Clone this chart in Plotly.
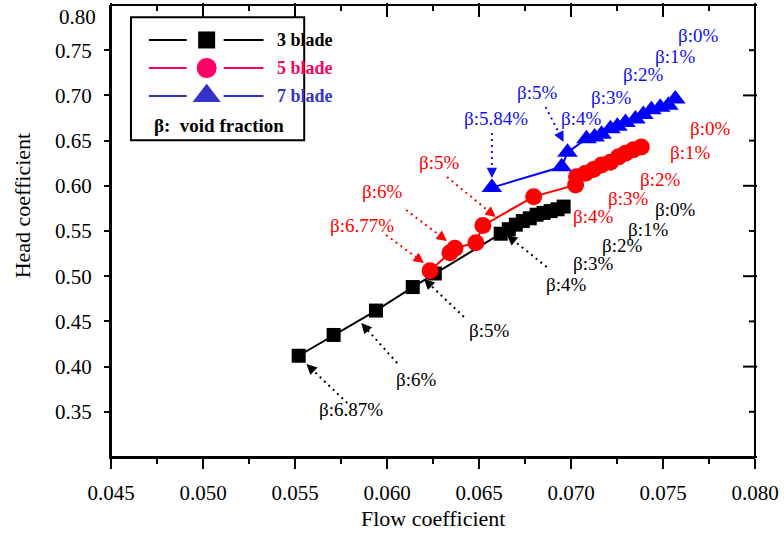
import math
import plotly.graph_objects as go

# ---- measured performance data --------------------------------------------
flow_3 = [0.0552, 0.0571, 0.0594, 0.0614, 0.0626, 0.06618, 0.06662, 0.06700,
          0.06738, 0.06776, 0.06813, 0.06851, 0.06889, 0.06927, 0.06960]
head_3 = [0.412, 0.435, 0.462, 0.488, 0.503, 0.547, 0.552, 0.557,
          0.561, 0.564, 0.568, 0.570, 0.572, 0.574, 0.577]

flow_5 = [0.06234, 0.06342, 0.06369, 0.06483, 0.06521, 0.06797, 0.07025, 0.07030,
          0.07079, 0.07122, 0.07166, 0.07214, 0.07258, 0.07296, 0.07339, 0.07382]
head_5 = [0.506, 0.526, 0.531, 0.537, 0.556, 0.588, 0.601, 0.610,
          0.614, 0.618, 0.623, 0.626, 0.632, 0.636, 0.640, 0.643]

flow_7 = [0.06570, 0.06949, 0.06981, 0.07084, 0.07128, 0.07166, 0.07214, 0.07252,
          0.07296, 0.07350, 0.07393, 0.07437, 0.07485, 0.07529, 0.07567]
head_7 = [0.598, 0.621, 0.637, 0.652, 0.654, 0.657, 0.663, 0.666,
          0.670, 0.674, 0.679, 0.684, 0.687, 0.689, 0.696]

# ---- axis ticks ------------------------------------------------------------
x_ticks = [0.045, 0.050, 0.055, 0.060, 0.065, 0.070, 0.075, 0.080]
x_labels = ["0.045", "0.050", "0.055", "0.060", "0.065", "0.070", "0.075", "0.080"]
x_minor_ticks = [0.0475, 0.0525, 0.0575, 0.0625, 0.0675, 0.0725, 0.0775]
y_ticks = [0.35, 0.40, 0.45, 0.50, 0.55, 0.60, 0.65, 0.70, 0.75]
y_labels = ["0.35", "0.40", "0.45", "0.50", "0.55", "0.60", "0.65", "0.70", "0.75"]
y_long_ticks = [0.30, 0.40, 0.50, 0.60, 0.70, 0.80]
y_short_ticks = [0.35, 0.45, 0.55, 0.65, 0.75]
X_RANGE = [0.045, 0.080]
Y_RANGE = [0.30, 0.80]

# ---- void fraction labels: (text, colour, x, y, arrow start, arrow tip) ----
BLACK, RED, BLUE = "#000000", "#FF0000", "#1010F0"
beta_labels = [
    ("β:6.87%", BLACK, 0.05806, 0.352, (0.05784, 0.3597), (0.05562, 0.4029)),
    ("β:6%", BLACK, 0.06158, 0.3852, (0.06055, 0.4040), (0.05860, 0.4482)),
    ("β:5%", BLACK, 0.06553, 0.4394, (0.06418, 0.4549), (0.06201, 0.4969)),
    ("β:4%", BLACK, 0.06971, 0.4903, (0.06868, 0.5102), (0.06651, 0.5456)),
    ("β:3%", BLACK, 0.07122, 0.5146, None, None),
    ("β:2%", BLACK, 0.07279, 0.5345, None, None),
    ("β:1%", BLACK, 0.07420, 0.5522, None, None),
    ("β:0%", BLACK, 0.07567, 0.5743, None, None),
    ("β:0%", RED, 0.07756, 0.6639, None, None),
    ("β:1%", RED, 0.07648, 0.6363, None, None),
    ("β:2%", RED, 0.07485, 0.6075, None, None),
    ("β:3%", RED, 0.07312, 0.5865, None, None),
    ("β:4%", RED, 0.07122, 0.5655, None, None),
    ("β:5%", RED, 0.06283, 0.6263, (0.06326, 0.6097), (0.06591, 0.5655)),
    ("β:6%", RED, 0.05974, 0.5942, (0.06104, 0.5732), (0.06326, 0.5389)),
    ("β:6.77%", RED, 0.05865, 0.5566, (0.05995, 0.5456), (0.06201, 0.5146)),
    ("β:0%", BLUE, 0.07691, 0.7668, None, None),
    ("β:1%", BLUE, 0.07567, 0.7425, None, None),
    ("β:2%", BLUE, 0.07393, 0.7226, None, None),
    ("β:3%", BLUE, 0.07220, 0.6982, None, None),
    ("β:4%", BLUE, 0.07057, 0.6750, None, None),
    ("β:5%", BLUE, 0.06813, 0.7027, (0.06862, 0.6872), (0.06960, 0.6485)),
    ("β:5.84%", BLUE, 0.06591, 0.6750, (0.06570, 0.6584), (0.06570, 0.6086)),
]

# ---- legend entries (positions as fractions of the plot area) -------------
legend_names = ["3 blade", "5 blade", "7 blade"]
legend_colors = ["#000000", "#FF0066", "#3333CC"]
legend_symbols = ["square", "circle", "triangle-up"]
legend_sizes = [18, 21, 26]
legend_rows = [0.9226, 0.8606, 0.7987]
legend_marker_x = 0.1486

FONT = "Liberation Serif"
W, H = 784, 533
M = dict(l=111, r=27, t=5, b=76)
px_per_x = (W - M["l"] - M["r"]) / (X_RANGE[1] - X_RANGE[0])
px_per_y = (H - M["t"] - M["b"]) / (Y_RANGE[1] - Y_RANGE[0])
LONG, SHORT = 10, 5


def frac_to_x(f):
    return X_RANGE[0] + f * (X_RANGE[1] - X_RANGE[0])


def frac_to_y(f):
    return Y_RANGE[0] + f * (Y_RANGE[1] - Y_RANGE[0])


fig = go.Figure()

fig.add_trace(go.Scatter(x=flow_3, y=head_3, mode="lines+markers",
                         line=dict(color="black", width=2),
                         marker=dict(symbol="square", size=14, color="black", opacity=1),
                         showlegend=False, cliponaxis=False))
fig.add_trace(go.Scatter(x=flow_5, y=head_5, mode="lines+markers",
                         line=dict(color="#FF0000", width=2),
                         marker=dict(symbol="circle", size=17, color="#FF0000", opacity=1),
                         showlegend=False, cliponaxis=False))
fig.add_trace(go.Scatter(x=flow_7, y=head_7, mode="lines+markers",
                         line=dict(color="#0000FF", width=2),
                         marker=dict(symbol="triangle-up", size=18, color="#0000FF", opacity=1),
                         showlegend=False, cliponaxis=False))


def tick_trace(xs, ys, symbol, length):
    return go.Scatter(x=xs, y=ys, mode="markers", showlegend=False, hoverinfo="skip",
                      cliponaxis=False,
                      marker=dict(symbol=symbol, size=length, color="black", opacity=1,
                                  line=dict(color="black", width=2)))


# y ticks point left on both frame edges; top ticks point down into the plot
for ticks, length in ((y_long_ticks, LONG), (y_short_ticks, SHORT)):
    half = length / 2 / px_per_x
    for edge in (X_RANGE[0], X_RANGE[1]):
        fig.add_trace(tick_trace([edge - half] * len(ticks), ticks, "line-ew", length))
for ticks, length in ((x_ticks, LONG), (x_minor_ticks, SHORT)):
    half = length / 2 / px_per_y
    fig.add_trace(tick_trace(ticks, [Y_RANGE[1] - half] * len(ticks), "line-ns", length))

shapes = []
annotations = []

# void fraction labels with dotted pointer arrows
for text, color, lx, ly, start, tip in beta_labels:
    annotations.append(dict(x=lx, y=ly, xref="x", yref="y", text=text, showarrow=False,
                            font=dict(family=FONT, size=19, color=color),
                            xanchor="center", yanchor="middle"))
    if start is None:
        continue
    sx, sy = start
    tx, ty = tip
    dxp = (sx - tx) * px_per_x
    dyp = (sy - ty) * px_per_y
    length = math.hypot(dxp, dyp)
    f = 9.0 / length
    bx, by = tx + (sx - tx) * f, ty + (sy - ty) * f
    shapes.append(dict(type="line", xref="x", yref="y", x0=sx, y0=sy, x1=bx, y1=by,
                       line=dict(color=color, width=2, dash="2px,4px")))
    annotations.append(dict(x=tx, y=ty, ax=bx, ay=by, xref="x", yref="y",
                            axref="x", ayref="y", text="", showarrow=True,
                            arrowhead=2, arrowsize=1.3, arrowwidth=1.6,
                            arrowcolor=color, standoff=0))

# plot frame
shapes.append(dict(type="rect", xref="paper", yref="paper", x0=0, x1=1, y0=0, y1=1,
                   line=dict(color="black", width=2), layer="above"))

# legend frame, line segments and text
shapes.append(dict(type="rect", xref="paper", yref="paper", x0=0.031, x1=0.300,
                   y0=0.701, y1=0.973, line=dict(color="black", width=2),
                   fillcolor="white", layer="below"))
for name, color, row in zip(legend_names, legend_colors, legend_rows):
    for x0, x1 in ((0.0588, 0.1176), (0.1749, 0.2368)):
        shapes.append(dict(type="line", xref="paper", yref="paper", x0=x0, x1=x1,
                           y0=row, y1=row, line=dict(color=color, width=2)))
    annotations.append(dict(x=0.2539, y=row, xref="paper", yref="paper", text="<b>%s</b>" % name,
                            showarrow=False, xanchor="left", yanchor="middle",
                            font=dict(family=FONT, size=18, color=color)))
annotations.append(dict(x=0.0635, y=0.7345, xref="paper", yref="paper",
                        text="<b>β:  void fraction</b>", showarrow=False,
                        xanchor="left", yanchor="middle",
                        font=dict(family=FONT, size=19, color="black")))
fig.add_trace(go.Scatter(x=[frac_to_x(legend_marker_x)] * 3,
                         y=[frac_to_y(r) for r in legend_rows],
                         mode="markers", showlegend=False, cliponaxis=False,
                         marker=dict(symbol=legend_symbols, size=legend_sizes,
                                     color=legend_colors, opacity=1)))

# axis titles and the top tick label
annotations.append(dict(x=0.5, y=-0.137, xref="paper", yref="paper", text="Flow coefficient",
                        showarrow=False, xanchor="center", yanchor="middle",
                        font=dict(family=FONT, size=22, color="black")))
annotations.append(dict(x=-0.138, y=0.557, xref="paper", yref="paper", text="Head coefficient",
                        showarrow=False, xanchor="center", yanchor="middle", textangle=-90,
                        font=dict(family=FONT, size=22, color="black")))
annotations.append(dict(x=0, y=0.80, xref="paper", yref="y", text="0.80", showarrow=False,
                        xanchor="right", yanchor="middle", xshift=-13, yshift=-12,
                        font=dict(family=FONT, size=21, color="black")))

base = dict(showgrid=False, zeroline=False, showline=True, linecolor="black",
            linewidth=2, tickcolor="black", tickwidth=2)
tick_font = dict(family=FONT, size=21, color="black")

fig.update_layout(
    width=W, height=H, margin=M,
    paper_bgcolor="white", plot_bgcolor="white",
    shapes=shapes, annotations=annotations,
    xaxis=dict(base, range=X_RANGE, tickvals=x_ticks, ticktext=x_labels,
               ticks="outside", ticklen=LONG, tickfont=tick_font, ticklabelstandoff=6,
               minor=dict(tickvals=x_minor_ticks, ticks="outside", ticklen=SHORT,
                          tickcolor="black", tickwidth=2)),
    yaxis=dict(base, range=Y_RANGE, tickvals=y_ticks, ticktext=y_labels,
               ticks="outside", ticklen=SHORT, tickfont=tick_font, ticklabelstandoff=8),
)

fig.write_html("out.html")
